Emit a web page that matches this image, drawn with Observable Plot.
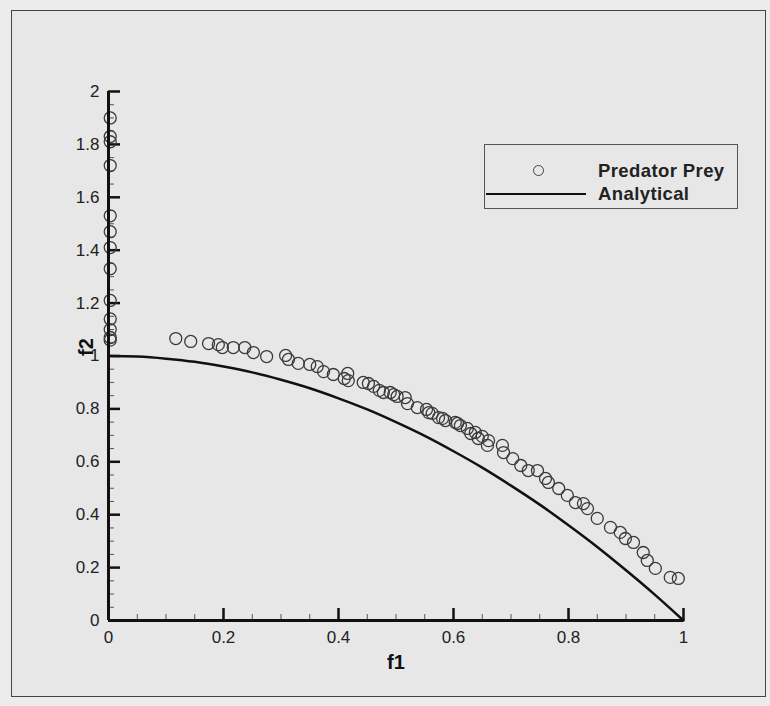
<!DOCTYPE html>
<html>
<head>
<meta charset="utf-8">
<script src="https://cdn.jsdelivr.net/npm/d3@7"></script>
<script src="https://cdn.jsdelivr.net/npm/@observablehq/plot@0.6"></script>
<style>
  html, body { margin: 0; padding: 0; background: #ececec; }
  #wrap { position: relative; width: 770px; height: 706px; overflow: hidden; font-family: "Liberation Sans", Arial, sans-serif; }
  #frame { position: absolute; left: 11px; top: 10px; width: 753px; height: 685px; border: 1px solid #444; background: #e7e7e7; }
  #chart { position: absolute; left: 0; top: 0; }
  #legend { position: absolute; left: 484px; top: 144px; width: 254px; height: 65px; border: 1px solid #555; box-sizing: border-box; }
  .lg { position: absolute; left: 113px; font-size: 18.5px; line-height: 22px; font-weight: bold; color: #222; letter-spacing: 0.4px; }
  #lgc { position: absolute; left: 48px; top: 20px; width: 11px; height: 11px; border: 1.3px solid #444; border-radius: 50%; box-sizing: border-box; }
  #lgl { position: absolute; left: 1px; top: 48px; width: 100px; height: 0; border-top: 2px solid #111; }
</style>
</head>
<body>
<div id="wrap">
  <div id="frame"></div>
  <div id="chart"></div>
  <div id="legend">
    <div id="lgc"></div><div class="lg" style="top:15px">Predator Prey</div>
    <div id="lgl"></div><div class="lg" style="top:38px">Analytical</div>
  </div>
</div>
<script>
// Predator-prey solutions (f1, f2)
const preyF1 = [
  0.003,0.003,0.003,0.003,0.003,0.003,0.003,0.003,0.003,0.003,0.003,0.003,0.003,
  0.117,0.143,0.174,0.191,0.198,0.217,0.237,0.252,0.275,0.308,0.313,0.330,0.350,0.363,0.374,0.391,0.416,0.417,
  0.410,0.443,0.452,0.461,0.471,0.478,0.490,0.496,0.502,0.516,0.520,0.537,0.553,0.557,0.563,0.574,0.581,0.586,
  0.603,0.607,0.612,0.624,0.630,0.638,0.643,0.650,0.659,0.661,0.685,0.687,0.703,0.717,0.730,0.746,0.760,0.765,
  0.783,0.798,0.812,0.826,0.833,0.850,0.873,0.890,0.899,0.913,0.930,0.937,0.951,0.977,0.991
];
const preyF2 = [
  1.90,1.83,1.81,1.72,1.53,1.47,1.41,1.33,1.21,1.14,1.10,1.07,1.06,
  1.066,1.055,1.047,1.043,1.032,1.032,1.032,1.013,0.998,1.002,0.987,0.972,0.968,0.960,0.941,0.930,0.934,0.907,
  0.915,0.900,0.896,0.885,0.870,0.862,0.862,0.854,0.847,0.843,0.820,0.805,0.798,0.786,0.783,0.767,0.764,0.756,
  0.749,0.745,0.737,0.726,0.707,0.711,0.688,0.696,0.662,0.680,0.662,0.635,0.612,0.586,0.567,0.567,0.537,0.522,
  0.499,0.473,0.446,0.442,0.423,0.386,0.352,0.333,0.310,0.295,0.257,0.227,0.197,0.163,0.159
];
// Analytical front (f1, f2)
const anaF1 = [0,0.05,0.1,0.15,0.2,0.25,0.3,0.35,0.4,0.45,0.5,0.55,0.6,0.65,0.7,0.75,0.8,0.85,0.9,0.95,1];
const anaF2 = [1,0.998,0.99,0.978,0.96,0.938,0.91,0.878,0.84,0.798,0.75,0.698,0.64,0.578,0.51,0.438,0.36,0.278,0.19,0.098,0];
// Axis ticks
const xMajor = [0,0.2,0.4,0.6,0.8,1];
const xMinor = [0.05,0.1,0.15,0.25,0.3,0.35,0.45,0.5,0.55,0.65,0.7,0.75,0.85,0.9,0.95];
const yMajor = [0,0.2,0.4,0.6,0.8,1,1.2,1.4,1.6,1.8,2];
const yMinor = [0.05,0.1,0.15,0.25,0.3,0.35,0.45,0.5,0.55,0.65,0.7,0.75,0.85,0.9,0.95,
                1.05,1.1,1.15,1.25,1.3,1.35,1.45,1.5,1.55,1.65,1.7,1.75,1.85,1.9,1.95];

const prey = preyF1.map((x, i) => ({f1: x, f2: preyF2[i]}));
const ana = anaF1.map((x, i) => ({f1: x, f2: anaF2[i]}));

const W = 770, H = 706, mL = 108, mR = 87, mT = 91, mB = 86;
const pxX = 1 / (W - mL - mR);       // data units per pixel (x)
const pxY = 2 / (H - mT - mB);       // data units per pixel (y)
const fmt = d => String(+d.toFixed(2));

const chart = Plot.plot({
  width: W, height: H,
  marginLeft: mL, marginRight: mR, marginTop: mT, marginBottom: mB,
  style: {background: "transparent", fontFamily: "Liberation Sans, Arial, sans-serif", fontSize: "17px", color: "#222"},
  x: {domain: [0, 1], ticks: xMajor, tickSize: 0, tickPadding: 10, tickFormat: fmt, label: null},
  y: {domain: [0, 2], ticks: yMajor, tickSize: 0, tickPadding: 9, tickFormat: fmt, label: null},
  marks: [
    Plot.ruleY(yMajor, {y: d => d, x1: 0, x2: 12 * pxX, stroke: "#111", strokeWidth: 2.5}),
    Plot.ruleY(yMinor, {y: d => d, x1: 0, x2: 6 * pxX, stroke: "#555", strokeWidth: 1}),
    Plot.ruleX(xMajor, {x: d => d, y1: 0, y2: 12 * pxY, stroke: "#111", strokeWidth: 2.5}),
    Plot.ruleX(xMinor, {x: d => d, y1: 0, y2: 6 * pxY, stroke: "#555", strokeWidth: 1}),
    Plot.line(ana, {x: "f1", y: "f2", stroke: "#111", strokeWidth: 2.5, curve: "natural"}),
    Plot.dot(prey, {x: "f1", y: "f2", r: 6, stroke: "#3a3a3a", strokeWidth: 1.3, fill: "none"}),
    Plot.ruleX([0], {stroke: "#111", strokeWidth: 3}),
    Plot.ruleY([0], {stroke: "#111", strokeWidth: 3}),
    Plot.text(["f1"], {frameAnchor: "bottom", dy: 48, fontSize: 20, fontWeight: "bold", fill: "#111"}),
    Plot.text(["f2"], {frameAnchor: "left", dx: -22, rotate: -90, fontSize: 20, fontWeight: "bold", fill: "#111"})
  ]
});
document.getElementById("chart").appendChild(chart);
</script>
</body>
</html>
